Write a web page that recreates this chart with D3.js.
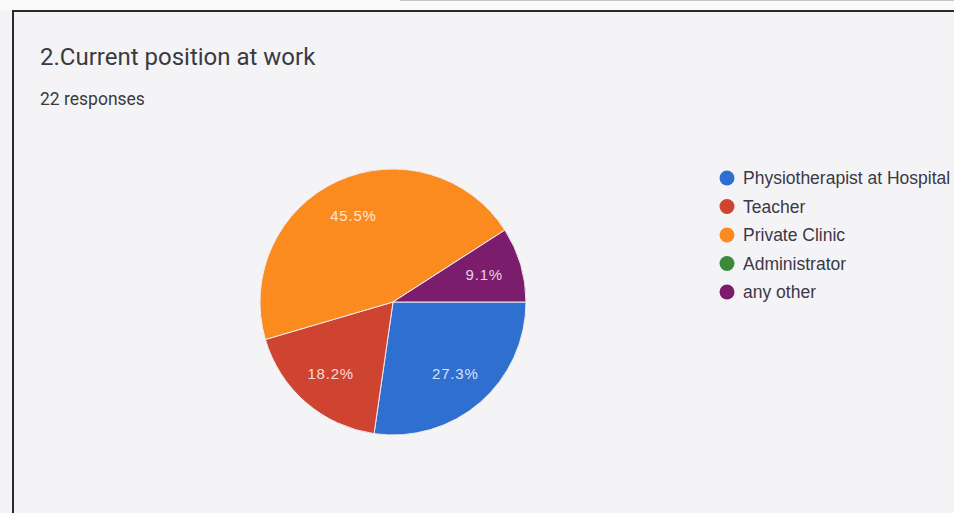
<!DOCTYPE html>
<html>
<head>
<meta charset="utf-8">
<script src="https://cdn.jsdelivr.net/npm/d3@7"></script>
<style>
  body { margin: 0; background: #f4f4f6; }
  svg { display: block; }
</style>
</head>
<body>
<div id="chart"></div>
<script>
// survey answers (22 responses)
var categories = ["Physiotherapist at Hospital", "Teacher", "Private Clinic", "Administrator", "any other"];
var counts = [6, 4, 10, 0, 2];
var colors = ["#2f6fd0", "#cf4331", "#fb8b1e", "#3b8a3b", "#7b1d6c"];

var width = 954, height = 513;
var cx = 393, cy = 302, radius = 133;

var svg = d3.select("#chart").append("svg")
  .attr("width", width)
  .attr("height", height);

svg.append("rect").attr("width", width).attr("height", height).attr("fill", "#f4f4f6");
svg.append("rect").attr("width", width).attr("height", 10).attr("fill", "#fafafa");
svg.append("line")
  .attr("x1", 400).attr("x2", width).attr("y1", 0.5).attr("y2", 0.5)
  .attr("stroke", "#777").attr("stroke-width", 1).attr("opacity", 0.4);

// frame of the card
svg.append("path")
  .attr("d", "M13," + height + "V11H" + width)
  .attr("fill", "none")
  .attr("stroke", "#2b2b2b")
  .attr("stroke-width", 2);

svg.append("text")
  .attr("x", 40).attr("y", 65)
  .attr("font-family", "Roboto, Arial, sans-serif")
  .attr("font-size", 24)
  .attr("fill", "#3a3a42")
  .text("2.Current position at work");

svg.append("text")
  .attr("x", 40).attr("y", 105)
  .attr("font-family", "Roboto, Arial, sans-serif")
  .attr("font-size", 17.5)
  .attr("fill", "#3a3a42")
  .text(d3.sum(counts) + " responses");

var total = d3.sum(counts);
var pie = d3.pie().sort(null).startAngle(Math.PI / 2).endAngle(Math.PI / 2 + 2 * Math.PI);
var arcs = pie(counts);
var arc = d3.arc().innerRadius(0).outerRadius(radius);
var labelArc = d3.arc().innerRadius(radius * 0.715).outerRadius(radius * 0.715);

var g = svg.append("g").attr("transform", "translate(" + cx + "," + cy + ")");

g.selectAll("path")
  .data(arcs)
  .enter()
  .append("path")
  .attr("d", arc)
  .attr("fill", function (d, i) { return colors[i]; })
  .attr("stroke", "#f3e9ee")
  .attr("stroke-width", 1);

g.selectAll("text")
  .data(arcs.filter(function (d) { return d.value > 0; }))
  .enter()
  .append("text")
  .attr("transform", function (d) { return "translate(" + labelArc.centroid(d) + ")"; })
  .attr("text-anchor", "middle")
  .attr("dy", "0.35em")
  .attr("font-family", "Arial, 'Liberation Sans', sans-serif")
  .attr("font-size", 15)
  .attr("letter-spacing", 0.8)
  .attr("fill", "#fff")
  .attr("fill-opacity", 0.82)
  .text(function (d) { return (d.value / total * 100).toFixed(1) + "%"; });

// legend
var legend = svg.append("g").attr("transform", "translate(727,178)");
var item = legend.selectAll("g")
  .data(categories)
  .enter()
  .append("g")
  .attr("transform", function (d, i) { return "translate(0," + i * 28.5 + ")"; });

item.append("circle")
  .attr("r", 7.5)
  .attr("fill", function (d, i) { return colors[i]; });

item.append("text")
  .attr("x", 16)
  .attr("dy", "0.36em")
  .attr("font-family", "Arial, 'Liberation Sans', sans-serif")
  .attr("font-size", 17.5)
  .attr("fill", "#3b3848")
  .text(function (d) { return d; });
</script>
</body>
</html>
